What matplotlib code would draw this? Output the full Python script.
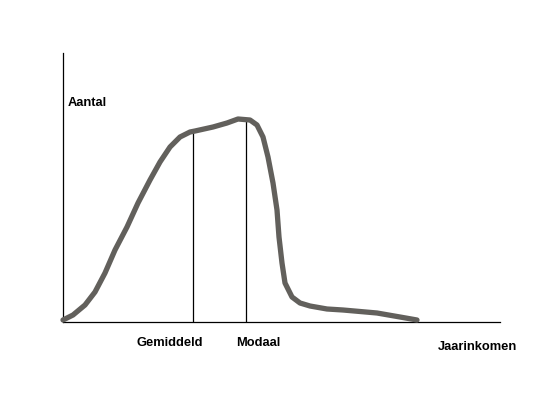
import matplotlib
matplotlib.use("Agg")
import matplotlib.pyplot as plt

# Curve (arbitrary income / count units)
income = [0, 10, 22, 32, 42, 52, 64, 75, 87, 97, 107, 117, 127, 132, 150, 164, 175,
          187, 194, 200, 205, 210, 214, 216, 219, 222, 229, 237, 247, 264, 280, 314,
          337, 354]
count = [2, 7, 17, 30, 49, 72, 95, 119, 142, 160, 175, 185, 190, 191, 195, 199, 203,
         202, 197, 185, 165, 139, 112, 85, 59, 39, 25, 19, 16, 13, 12, 9, 5, 2]
mean_x, mean_y = 130, 190
mode_x, mode_y = 183, 203
labels = {"y": "Aantal", "x": "Jaarinkomen", "mean": "Gemiddeld", "mode": "Modaal"}

plt.rcParams['font.family'] = ['Liberation Sans', 'DejaVu Sans']
fig = plt.figure(figsize=(5.5, 3.94), dpi=100)
ax = fig.add_axes([63/550, (394-322)/394, (500-63)/550, (322-53)/394])
ax.set_xlim(0, 437)
ax.set_ylim(0, 269)
ax.plot(income, count, color='#62605c', lw=3.8, solid_joinstyle='round',
        solid_capstyle='round', clip_on=False, zorder=3)
ax.plot([mean_x, mean_x], [0, mean_y], color='black', lw=0.9)
ax.plot([mode_x, mode_x], [0, mode_y], color='black', lw=0.9)
for s in ['top', 'right']:
    ax.spines[s].set_visible(False)
for s in ['left', 'bottom']:
    ax.spines[s].set_color('black')
    ax.spines[s].set_linewidth(0.9)
ax.set_xticks([])
ax.set_yticks([])
fs = 9.3
ax.text(5, 219, labels["y"], fontsize=fs, fontweight='bold', ha='left', va='center')
ax.text(mean_x - 23, -21, labels["mean"], fontsize=fs, fontweight='bold', ha='center', va='center')
ax.text(mode_x + 12, -21, labels["mode"], fontsize=fs, fontweight='bold', ha='center', va='center')
ax.text(414, -25, labels["x"], fontsize=fs, fontweight='bold', ha='center', va='center', clip_on=False)
fig.savefig("out.png", dpi=100)
